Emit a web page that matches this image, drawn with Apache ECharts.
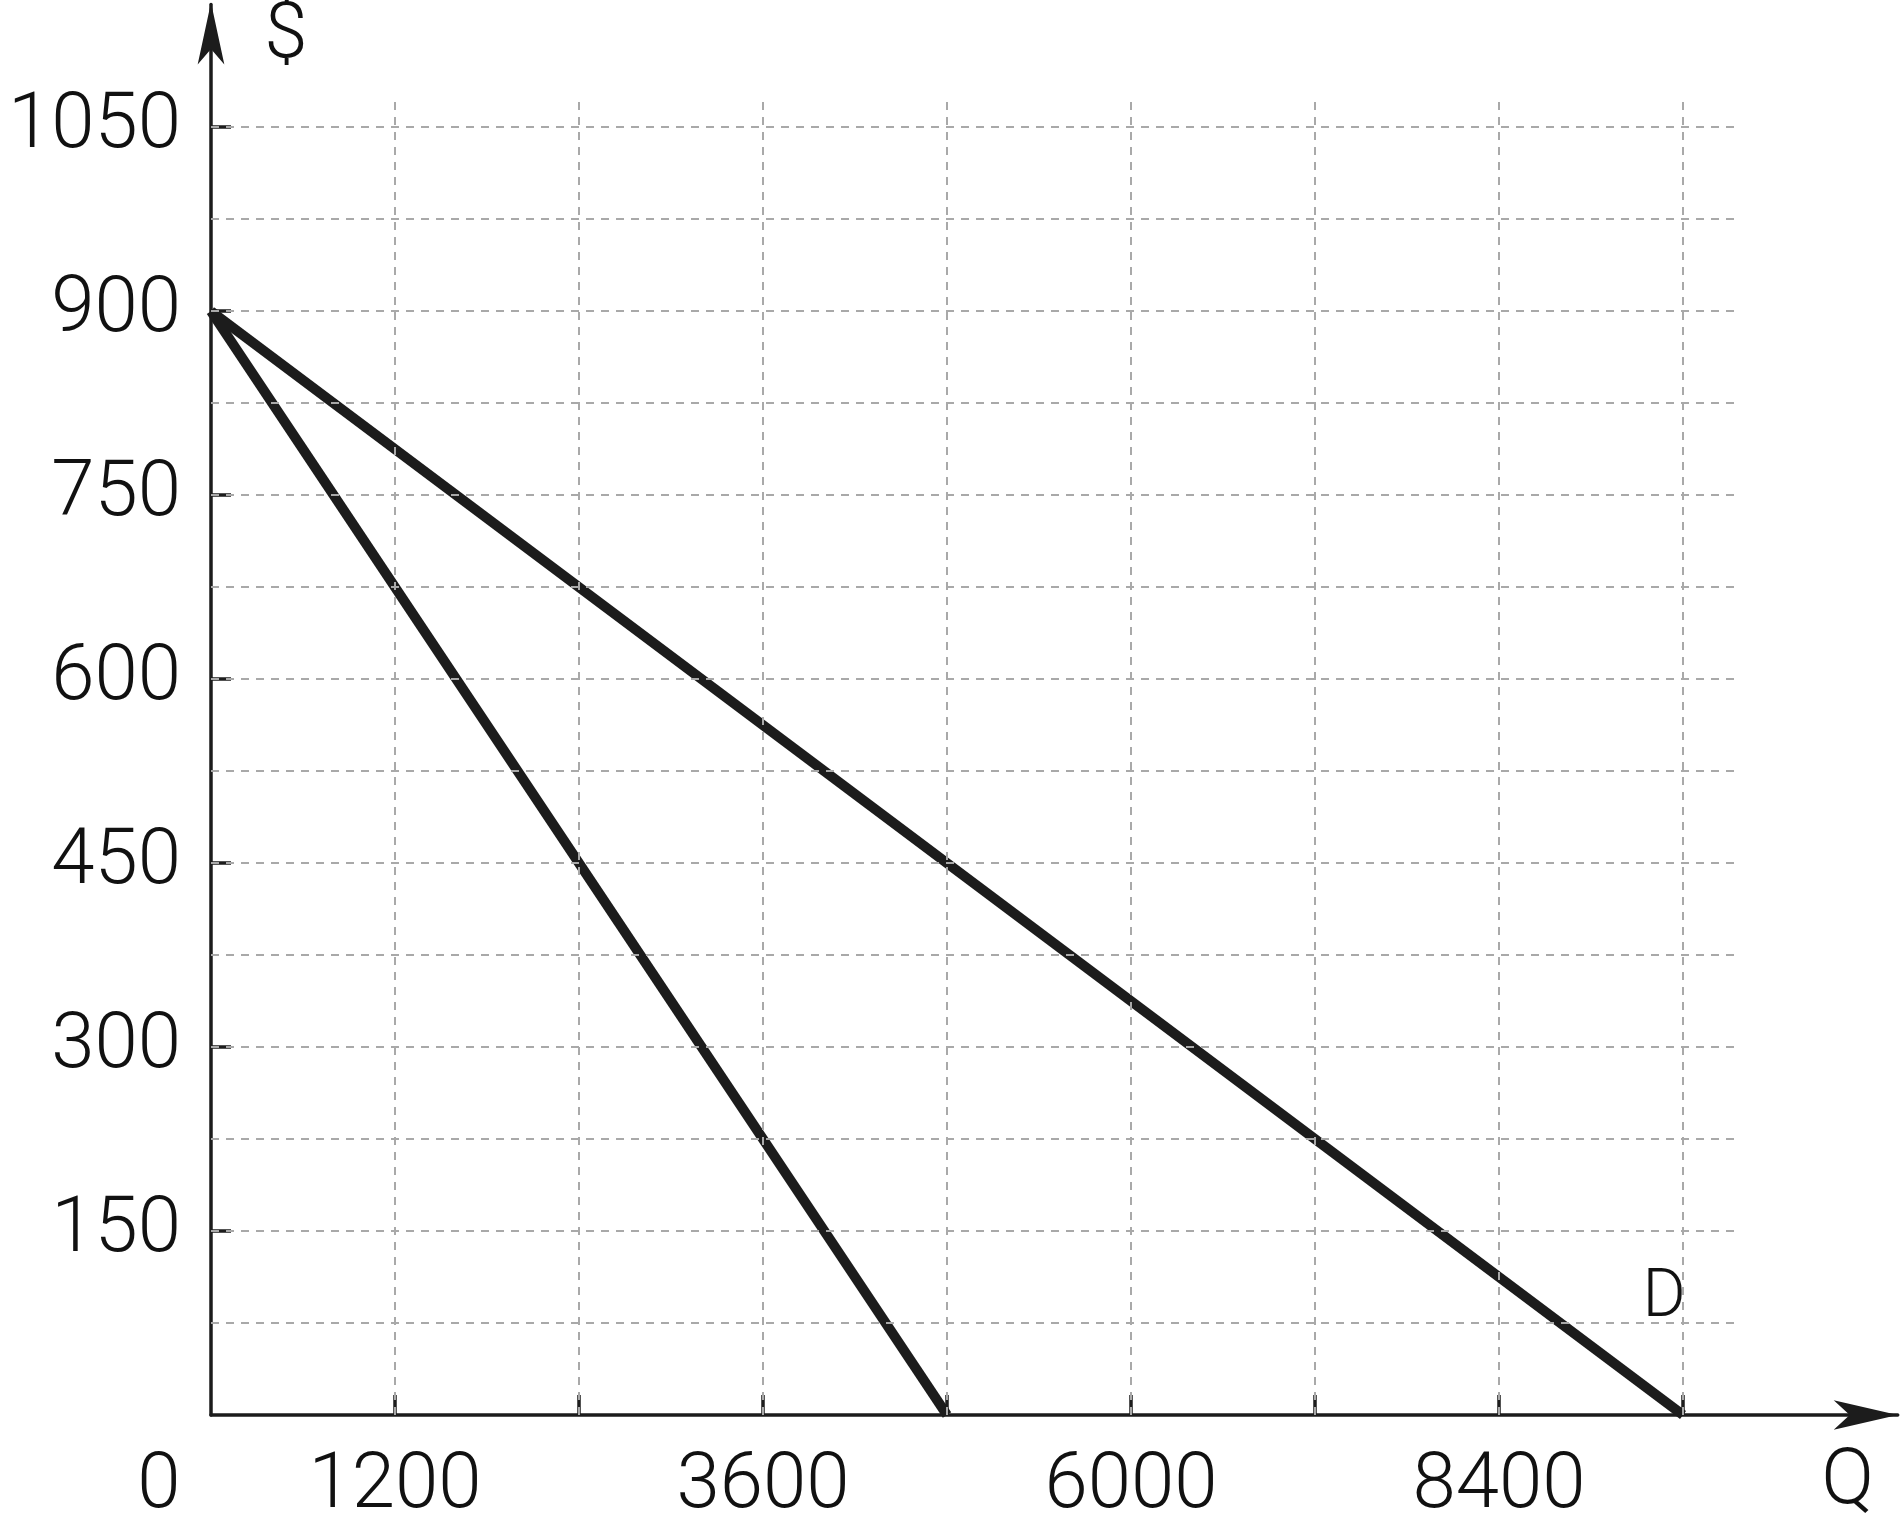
<!DOCTYPE html>
<html>
<head>
<meta charset="utf-8">
<script src="https://cdn.jsdelivr.net/npm/echarts@6/dist/echarts.min.js"></script>
<style>
html,body{margin:0;padding:0;background:#fff;}
#chart{width:1903px;height:1529px;}
</style>
</head>
<body>
<div id="chart"></div>
<script>
// ---- data ----
var demandLine = [[0, 900], [9600, 0]];          // D
var mrLine = [[0, 900], [4800, 0]];              // marginal revenue
var xTickValues = [1200, 2400, 3600, 4800, 6000, 7200, 8400, 9600];
var xLabelValues = [0, 1200, 3600, 6000, 8400];
var yTickValues = [150, 300, 450, 600, 750, 900, 1050];
var yLabelValues = [150, 300, 450, 600, 750, 900, 1050];
var hGridValues = [75, 150, 225, 300, 375, 450, 525, 600, 675, 750, 825, 900, 975, 1050];
var vGridValues = [1200, 2400, 3600, 4800, 6000, 7200, 8400, 9600];
var gridXEnd = 9975;
var gridYEnd = 1074;
var xMax = 11000;
var yMax = 1150;

var FONT = 'Roboto';
var FS = 78;
var ink = '#1c1c1c';
var gridColor = '#a9a9a9';

var markData = [];
hGridValues.forEach(function (v) {
  markData.push([{ coord: [0, v] }, { coord: [gridXEnd, v] }]);
});
vGridValues.forEach(function (v) {
  markData.push([{ coord: [v, 0] }, { coord: [v, gridYEnd] }]);
});

var chart = echarts.init(document.getElementById('chart'), null, { renderer: 'canvas' });
chart.setOption({
  animation: false,
  backgroundColor: '#ffffff',
  grid: { left: 211, right: 5.3, top: 4.6, bottom: 114, containLabel: false, outerBoundsMode: 'none' },
  xAxis: {
    type: 'value', min: 0, max: xMax, interval: 1200,
    axisLine: { show: true, lineStyle: { color: ink, width: 3.5 },
      symbol: ['none', 'arrow'], symbolSize: [22, 64], symbolOffset: [0, 0] },
    axisTick: { show: true, inside: true, length: 20, lineStyle: { color: ink, width: 3.5 },
      customValues: xTickValues },
    axisLabel: { show: true, margin: 33, fontFamily: FONT, fontWeight: 300, fontSize: FS, color: '#111',
      customValues: xLabelValues,
      formatter: function (v) { return v === 0 ? '{z|0}' : String(v); },
      rich: { z: { fontFamily: FONT, fontWeight: 300, fontSize: FS, color: '#111', padding: [0, 104, 0, 0] } } },
    splitLine: { show: false }
  },
  yAxis: {
    type: 'value', min: 0, max: yMax, interval: 150,
    axisLine: { show: true, lineStyle: { color: ink, width: 3.5 },
      symbol: ['none', 'arrow'], symbolSize: [20, 62], symbolOffset: [0, 2] },
    axisTick: { show: true, inside: true, length: 20, lineStyle: { color: ink, width: 3.5 },
      customValues: yTickValues },
    axisLabel: { show: true, margin: 30, fontFamily: FONT, fontWeight: 300, fontSize: FS, color: '#111',
      customValues: yLabelValues,
      formatter: function (v) { return String(v); } },
    splitLine: { show: false }
  },
  series: [
    {
      name: 'D', type: 'line', data: demandLine, showSymbol: false, symbol: 'none',
      lineStyle: { color: ink, width: 10 }, z: 2,
      markPoint: {
        symbol: 'circle', symbolSize: 2, itemStyle: { color: 'rgba(0,0,0,0)' },
        data: [{ coord: [9600, 0] }],
        label: { show: true, formatter: 'D', position: 'inside', offset: [-19, -116],
          fontFamily: FONT, fontWeight: 300, fontSize: 66, color: '#111' }
      }
    },
    {
      name: 'MR', type: 'line', data: mrLine, showSymbol: false, symbol: 'none',
      lineStyle: { color: ink, width: 10 }, z: 2
    },
    {
      name: 'grid', type: 'line', data: [], silent: true,
      markLine: {
        silent: true, symbol: ['none', 'none'], label: { show: false },
        lineStyle: { color: gridColor, width: 2, type: [8, 7] },
        emphasis: { disabled: true },
        data: markData
      }
    }
  ]
});

// axis titles placed relative to the axis ends
var yEnd = chart.convertToPixel({ gridIndex: 0 }, [0, yMax]);
var xEnd = chart.convertToPixel({ gridIndex: 0 }, [xMax, 0]);
chart.setOption({
  graphic: [
    { type: 'text', x: yEnd[0] + 75, y: yEnd[1] + 33, silent: true,
      style: { text: '$', fontFamily: FONT, fontWeight: 300, fontSize: FS, fill: '#111',
        align: 'center', verticalAlign: 'middle' } },
    { type: 'text', x: xEnd[0] - 50, y: xEnd[1] + 68, silent: true,
      style: { text: 'Q', fontFamily: FONT, fontWeight: 300, fontSize: FS, fill: '#111',
        align: 'center', verticalAlign: 'middle' } }
  ]
});
</script>
</body>
</html>
